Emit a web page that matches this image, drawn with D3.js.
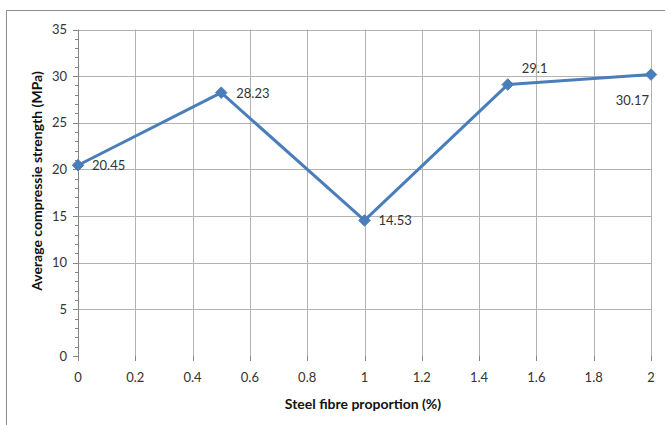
<!DOCTYPE html>
<html>
<head>
<meta charset="utf-8">
<script src="https://cdn.jsdelivr.net/npm/d3@7"></script>
<style>
  html, body { margin: 0; padding: 0; background: #fff; }
  svg { display: block; font-family: Lato, "Open Sans", sans-serif; }
</style>
</head>
<body>
<svg id="chart" width="665" height="425"></svg>
<script>
// Steel fibre proportion (%) and average compressive strength (MPa)
const fibre = [0, 0.5, 1, 1.5, 2];
const strength = [20.45, 28.23, 14.53, 29.1, 30.17];
const xTicks = [0, 0.2, 0.4, 0.6, 0.8, 1, 1.2, 1.4, 1.6, 1.8, 2];
const yTicks = [0, 5, 10, 15, 20, 25, 30, 35];
// label placement per point: [dx, dy, anchor]
const labelPos = [[14, 5, "start"], [15, 5, "start"], [14, 5, "start"], [14, -12, "start"], [-2, 30, "end"]];

const svg = d3.select("#chart");
const m = { left: 78, right: 651, top: 29.5, bottom: 356 };

const x = d3.scaleLinear().domain([0, 2]).range([m.left, m.right]);
const y = d3.scaleLinear().domain([0, 35]).range([m.bottom, m.top]);

// outer chart frame
svg.append("rect").attr("x", 6.5).attr("y", 10.5).attr("width", 670).attr("height", 430)
  .attr("fill", "none").attr("stroke", "#8c8c8c").attr("stroke-width", 1);

const grid = svg.append("g");
grid.selectAll("line.h").data(yTicks.slice(1)).join("line")
  .attr("x1", m.left).attr("x2", m.right)
  .attr("y1", d => Math.round(y(d)) + 0.5).attr("y2", d => Math.round(y(d)) + 0.5)
  .attr("stroke", "#b3b3b3");
grid.selectAll("line.v").data(xTicks.slice(1)).join("line")
  .attr("y1", m.top).attr("y2", m.bottom)
  .attr("x1", d => Math.round(x(d)) + 0.5).attr("x2", d => Math.round(x(d)) + 0.5)
  .attr("stroke", "#b3b3b3");

// y axis with minor ticks
const yMinor = d3.range(0, 35.01, 1);
const ya = svg.append("g");
ya.append("line").attr("x1", m.left + 0.5).attr("x2", m.left + 0.5)
  .attr("y1", m.top).attr("y2", m.bottom).attr("stroke", "#868686");
ya.selectAll("line.mn").data(yMinor).join("line")
  .attr("x1", m.left - 3).attr("x2", m.left)
  .attr("y1", d => Math.round(y(d)) + 0.5).attr("y2", d => Math.round(y(d)) + 0.5)
  .attr("stroke", "#868686");
ya.selectAll("line.mj").data(yTicks).join("line")
  .attr("x1", m.left - 5).attr("x2", m.left)
  .attr("y1", d => Math.round(y(d)) + 0.5).attr("y2", d => Math.round(y(d)) + 0.5)
  .attr("stroke", "#868686");
ya.selectAll("text").data(yTicks).join("text")
  .attr("x", m.left - 11).attr("y", d => y(d) + 4.5)
  .attr("text-anchor", "end").attr("font-size", 13).attr("fill", "#333")
  .text(d => d);

// x axis
const xa = svg.append("g");
xa.append("line").attr("x1", m.left).attr("x2", m.right)
  .attr("y1", m.bottom + 0.5).attr("y2", m.bottom + 0.5).attr("stroke", "#868686");
xa.selectAll("line").data(xTicks).join("line")
  .attr("x1", d => Math.round(x(d)) + 0.5).attr("x2", d => Math.round(x(d)) + 0.5)
  .attr("y1", m.bottom).attr("y2", m.bottom + 5).attr("stroke", "#868686");
xa.selectAll("text").data(xTicks).join("text")
  .attr("x", d => x(d)).attr("y", 382)
  .attr("text-anchor", "middle").attr("font-size", 13).attr("fill", "#333")
  .text(d => d);

// axis titles
svg.append("text").attr("x", 363).attr("y", 409).attr("text-anchor", "middle")
  .attr("font-size", 14).attr("font-weight", "bold").attr("fill", "#111")
  .text("Steel fibre proportion (%)");
svg.append("text").attr("transform", "translate(42,181) rotate(-90)").attr("text-anchor", "middle")
  .attr("font-size", 14).attr("font-weight", "bold").attr("fill", "#111")
  .text("Average compressie strength (MPa)");

// series line
const pts = fibre.map((f, i) => [f, strength[i]]);
svg.append("path").datum(pts)
  .attr("d", d3.line().x(d => x(d[0])).y(d => y(d[1])))
  .attr("fill", "none").attr("stroke", "#4a7ebb").attr("stroke-width", 3)
  .attr("stroke-linejoin", "round");

// diamond markers
svg.selectAll("path.mk").data(pts).join("path")
  .attr("d", d3.symbol().type(d3.symbolDiamond2).size(85))
  .attr("transform", d => `translate(${x(d[0])},${y(d[1])})`)
  .attr("fill", "#4a7ebb").attr("stroke", "#4a7ebb").attr("stroke-width", 1);

// data labels
svg.selectAll("text.lbl").data(pts).join("text")
  .attr("x", (d, i) => x(d[0]) + labelPos[i][0])
  .attr("y", (d, i) => y(d[1]) + labelPos[i][1])
  .attr("text-anchor", (d, i) => labelPos[i][2])
  .attr("font-size", 13).attr("fill", "#333")
  .text(d => d[1]);
</script>
</body>
</html>
